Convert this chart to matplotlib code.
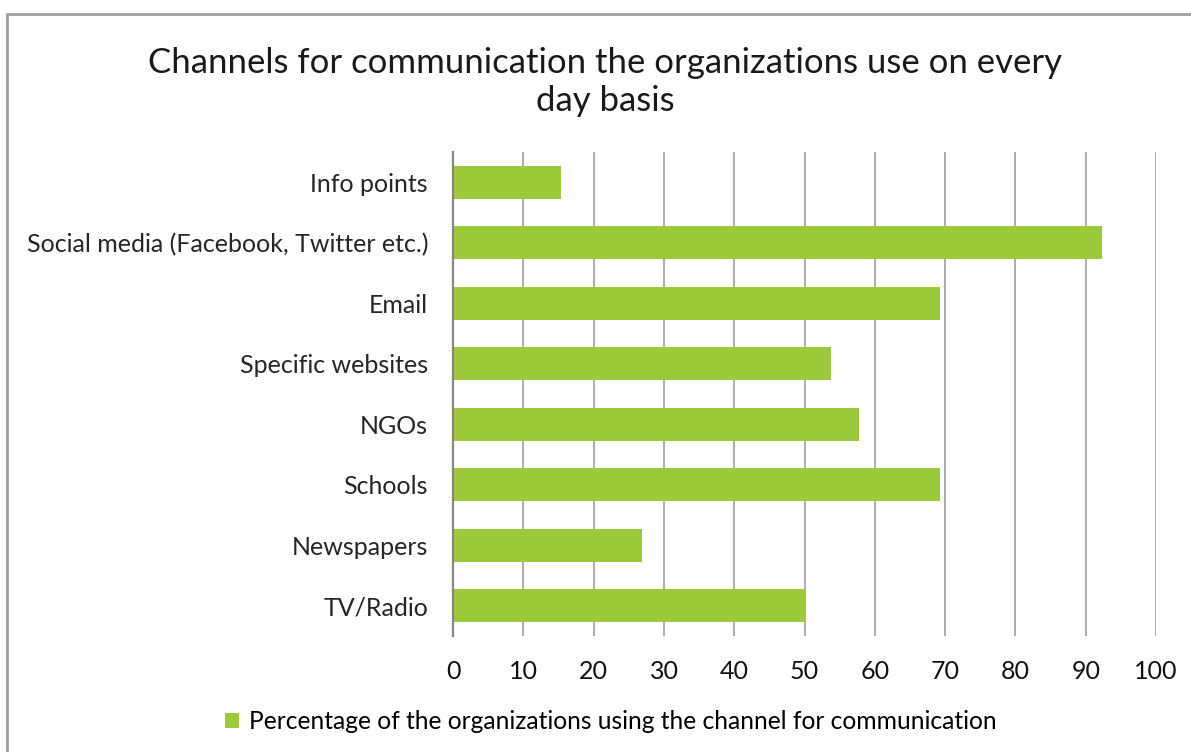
import matplotlib
matplotlib.use('Agg')
import matplotlib.pyplot as plt
from matplotlib.patches import Rectangle

channels = ['Info points', 'Social media (Facebook, Twitter etc.)', 'Email',
            'Specific websites', 'NGOs', 'Schools', 'Newspapers', 'TV/Radio']
percent = [15.4, 92.3, 69.2, 53.8, 57.7, 69.2, 26.9, 50.0]
xticks = [0, 10, 20, 30, 40, 50, 60, 70, 80, 90, 100]
series_name = 'Percentage of the organizations using the channel for communication'

plt.rcParams['font.family'] = ['Lato', 'DejaVu Sans']
green = '#9BCB3B'

fig = plt.figure(figsize=(11.91, 7.52), dpi=100)
ax = fig.add_axes([0.3804, 0.1543, 0.5903, 0.6436])

ypos = list(range(len(channels)))
ax.barh(ypos, percent, height=0.55, color=green, label=series_name, zorder=3)

ax.set_xlim(0, 100)
ax.set_ylim(len(channels) - 0.5, -0.5)
ax.set_xticks(xticks)
ax.set_xticklabels([str(t) for t in xticks], fontsize=18, color='#111111')
ax.set_yticks(ypos)
ax.set_yticklabels(channels, fontsize=18, color='#262626')
ax.tick_params(axis='both', length=0)
ax.tick_params(axis='x', pad=17)
ax.tick_params(axis='y', pad=18)
ax.grid(axis='x', color='#a6a6a6', linewidth=1.3, zorder=0)
for s in ['top', 'right', 'bottom']:
    ax.spines[s].set_visible(False)
ax.spines['left'].set_color('#868686')
ax.spines['left'].set_linewidth(1.6)
ax.spines['left'].set_zorder(4)

# outer chart frame, running off the right and bottom edges
fig.patches.append(Rectangle((7 / 1191, -0.1), 1.2, 1.1 - 14 / 752,
                             transform=fig.transFigure, fill=False,
                             edgecolor='#a0a0a0', linewidth=2))

fig.text(0.508, 0.891, 'Channels for communication the organizations use on every\nday basis',
         ha='center', va='center', fontsize=25, color='#1a1a1a', linespacing=1.2)

fig.legend(loc='center', bbox_to_anchor=(0.513, 0.04), frameon=False, fontsize=17.7,
           handlelength=0.55, handleheight=0.55, handletextpad=0.4)

fig.savefig('out.png', dpi=100)
